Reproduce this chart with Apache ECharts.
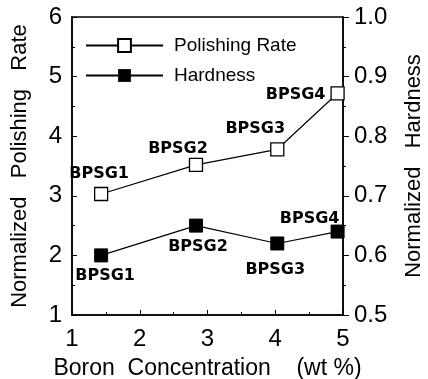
<!DOCTYPE html>
<html>
<head>
<meta charset="utf-8">
<script src="https://cdn.jsdelivr.net/npm/echarts@6/dist/echarts.min.js"></script>
<style>
  html, body { margin: 0; padding: 0; background: #fff; }
  #chart { width: 428px; height: 379px; }
</style>
</head>
<body>
<div id="chart"></div>
<script>
// boron concentration (wt %) of each sample
const boron = [1.43, 2.83, 4.03, 4.92];
const sampleNames = ['BPSG1', 'BPSG2', 'BPSG3', 'BPSG4'];
const polishingRate = [3.03, 3.52, 3.78, 4.72];
const hardness = [0.60, 0.65, 0.62, 0.64];

const font = 'Liberation Sans';

// label placement for each point (series order)
const rateLabelPos = [
  { position: 'top', offset: [-2, 0] },
  { position: 'top', offset: [-18, 4] },
  { position: 'top', offset: [-22, 0] },
  { position: 'left', offset: [0, 2] }
];
const hardLabelPos = [
  { position: 'bottom', offset: [4, 0] },
  { position: 'bottom', offset: [2, 1] },
  { position: 'bottom', offset: [-2, 6] },
  { position: 'top', offset: [-28, 7] }
];

function pts(ys, labels) {
  return boron.map((x, i) => ({
    value: [x, ys[i]],
    name: sampleNames[i],
    label: labels[i]
  }));
}

const labelStyle = {
  show: true,
  formatter: p => p.name,
  color: '#000',
  fontFamily: 'DejaVu Sans',
  fontWeight: 'bold',
  fontSize: 16
};

const chart = echarts.init(document.getElementById('chart'));
chart.setOption({
  animation: false,
  backgroundColor: '#fff',
  grid: {
    left: 72, right: 85, top: 17, bottom: 64,
    outerBoundsMode: 'none',
    show: true, borderColor: '#000', borderWidth: 1.5
  },
  legend: {
    left: 80, top: 31,
    orient: 'vertical',
    itemWidth: 77, itemHeight: 16, itemGap: 11,
    textStyle: { fontFamily: font, fontSize: 19, color: '#000', padding: [0, 0, 0, 6] },
    data: ['Polishing Rate', 'Hardness']
  },
  xAxis: {
    type: 'value', min: 1, max: 5, interval: 1,
    name: 'Boron  Concentration    (wt %)',
    nameLocation: 'middle', nameGap: 42,
    nameTextStyle: { fontFamily: font, fontSize: 23, color: '#000' },
    axisLine: { lineStyle: { color: '#000', width: 1.5 } },
    axisTick: { inside: true, length: 5, lineStyle: { color: '#000' } },
    minorTick: { show: true, splitNumber: 2, length: 3, lineStyle: { color: '#000' } },
    axisLabel: { fontFamily: font, fontSize: 24, color: '#000', margin: 12 },
    splitLine: { show: false }
  },
  yAxis: [{
    type: 'value', min: 1, max: 6, interval: 1,
    name: 'Normalized   Polishing   Rate',
    nameLocation: 'middle', nameGap: 41, nameRotate: 90,
    nameTextStyle: { fontFamily: font, fontSize: 22, color: '#000' },
    axisLine: { show: true, lineStyle: { color: '#000', width: 1.5 } },
    axisTick: { inside: true, length: 5, lineStyle: { color: '#000' } },
    minorTick: { show: true, splitNumber: 2, length: 3, lineStyle: { color: '#000' } },
    axisLabel: { fontFamily: font, fontSize: 24, color: '#000', margin: 10 },
    splitLine: { show: false }
  }, {
    type: 'value', min: 0.5, max: 1.0, interval: 0.1,
    position: 'right',
    name: 'Normalized   Hardness',
    nameLocation: 'middle', nameGap: 60, nameRotate: 90,
    nameTextStyle: { fontFamily: font, fontSize: 22, color: '#000' },
    axisLine: { show: true, lineStyle: { color: '#000', width: 1.5 } },
    axisTick: { inside: false, length: 6, lineStyle: { color: '#000' } },
    minorTick: { show: true, splitNumber: 2, length: 3, lineStyle: { color: '#000' } },
    axisLabel: { fontFamily: font, fontSize: 24, color: '#000', margin: 11, formatter: v => v.toFixed(1) },
    splitLine: { show: false }
  }],
  series: [{
    name: 'Polishing Rate',
    type: 'line',
    yAxisIndex: 0,
    symbol: 'rect', symbolSize: 13,
    itemStyle: { color: '#fff', borderColor: '#000', borderWidth: 1.3 },
    lineStyle: { color: '#000', width: 1.2 },
    label: labelStyle,
    data: pts(polishingRate, rateLabelPos)
  }, {
    name: 'Hardness',
    type: 'line',
    yAxisIndex: 1,
    symbol: 'rect', symbolSize: 13,
    itemStyle: { color: '#000', borderColor: '#000' },
    lineStyle: { color: '#000', width: 1.2 },
    label: labelStyle,
    data: pts(hardness, hardLabelPos)
  }]
});
</script>
</body>
</html>
